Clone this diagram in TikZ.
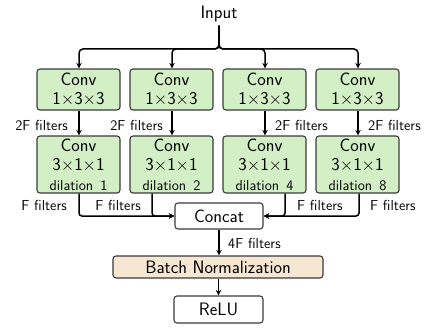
\documentclass[tikz,border=0pt]{standalone}
\usetikzlibrary{arrows.meta}
\definecolor{convgreen}{HTML}{D3EFC5}
\definecolor{bnbeige}{HTML}{F6E7D2}
\definecolor{boxline}{HTML}{3A3A3A}
\begin{document}
\begin{tikzpicture}[x=1pt,y=-1pt,
  font=\sffamily\fontsize{18}{19.5}\selectfont,
  box/.style={draw=boxline, line width=1.1pt, rounded corners=3pt, inner sep=0pt, align=center},
  convbox/.style={box, fill=convgreen, minimum width=83pt},
  arr/.style={-{Stealth[length=5.5pt,width=5.5pt]}, line width=1.5pt},
  lbl/.style={font=\sffamily\fontsize{14.5}{16}\selectfont, inner sep=0pt}
]
\useasboundingbox (0,0) rectangle (425,329);
\newcommand\dil[1]{{\fontsize{14.5}{18}\selectfont dilation\, #1}}
\node (in) at (219,14) {Input};
\foreach \i/\x in {1/78.5,2/171.5,3/264.5,4/357.5}{
  \node[convbox, minimum height=41pt] (a\i) at (\x,89.5) {Conv\\1$\times$3$\times$3};
}
\node[convbox, minimum height=57pt] (b1) at (78.5,164.5) {Conv\\3$\times$1$\times$1\\\dil{1}};
\node[convbox, minimum height=57pt] (b2) at (171.5,164.5) {Conv\\3$\times$1$\times$1\\\dil{2}};
\node[convbox, minimum height=57pt] (b3) at (264.5,164.5) {Conv\\3$\times$1$\times$1\\\dil{4}};
\node[convbox, minimum height=57pt] (b4) at (357.5,164.5) {Conv\\3$\times$1$\times$1\\\dil{8}};
\node[box, fill=white, minimum width=88pt, minimum height=26pt] (cc) at (219,216) {Concat};
\node[box, fill=bnbeige, minimum width=210pt, minimum height=22pt] (bn) at (218,267) {Batch Normalization};
\node[box, fill=white, minimum width=89pt, minimum height=27pt] (re) at (218.5,309.5) {ReLU};
% input fan-out
\coordinate (j) at (219,49);
\foreach \i/\x in {1/79,2/172,3/265,4/358}{
  \draw[arr, rounded corners=4pt] (in.south) -- (j) -| (a\i.north -| \x,0);
}
% 2F arrows
\foreach \i/\x in {1/79,2/172,3/265,4/358}{
  \draw[arr] (a\i.south -| \x,0) -- (b\i.north -| \x,0);
}
\node[lbl, anchor=east] (l1) at (68,125) {2F filters};
\node[lbl, anchor=east] (l2) at (163,125) {2F filters};
\node[lbl, anchor=west] (l3) at (275,125) {2F filters};
\node[lbl, anchor=west] (l4) at (368,125) {2F filters};
% to concat
\draw[arr, rounded corners=3pt] (b1.south -| 79,0) |- (cc.west);
\draw[arr, rounded corners=3pt] (b2.south -| 152,0) |- (cc.west);
\draw[arr, rounded corners=3pt] (b3.south -| 285,0) |- (cc.east);
\draw[arr, rounded corners=3pt] (b4.south -| 359,0) |- (cc.east);
\node[lbl, anchor=east] (f1) at (67,205) {F filters};
\node[lbl, anchor=east] (f2) at (141,205) {F filters};
\node[lbl, anchor=west] (f3) at (297,205) {F filters};
\node[lbl, anchor=west] (f4) at (370,205) {F filters};
% concat -> bn -> relu
\draw[arr] (cc.south) -- (bn.north -| cc.south);
\node[lbl, anchor=west] (f5) at (228,243) {4F filters};
\draw[arr] (bn.south -| re.north) -- (re.north);
\end{tikzpicture}
\end{document}
